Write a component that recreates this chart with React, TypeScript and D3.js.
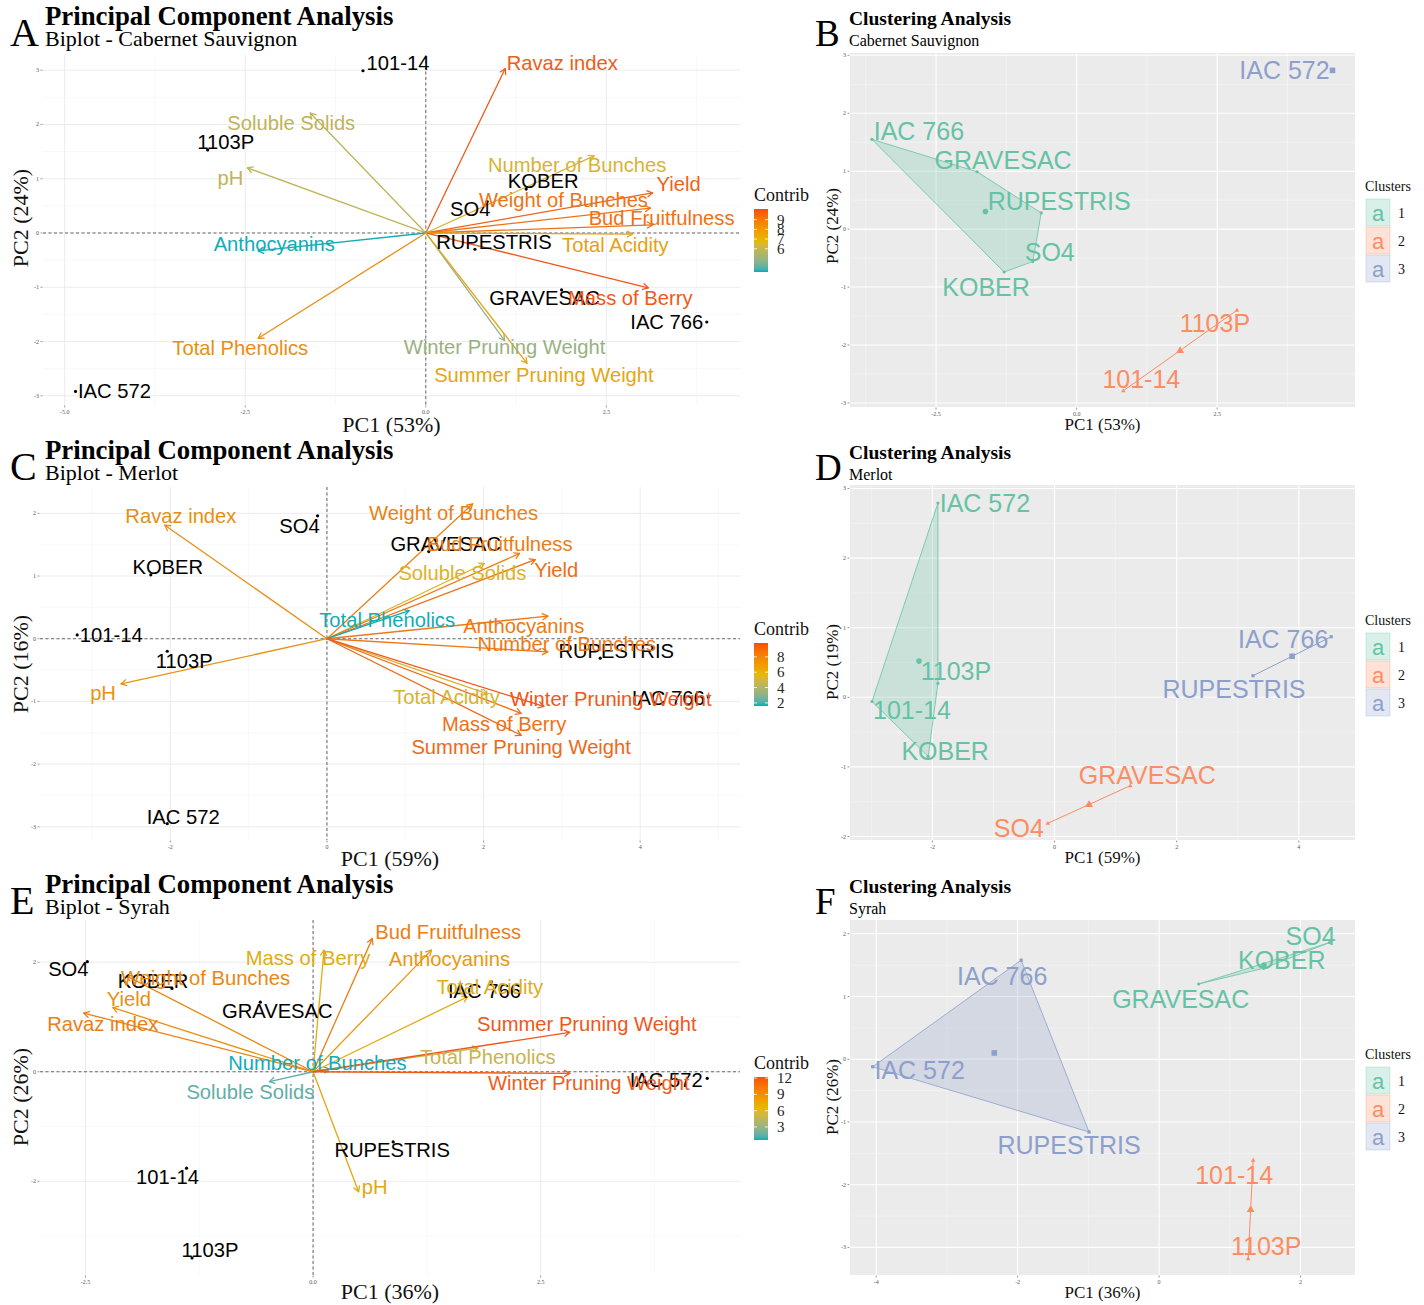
import React from "react";
import * as d3 from "d3";

const SANS = "'Liberation Sans', Arial, Helvetica, sans-serif";
const SERIF = "'Liberation Serif', 'Times New Roman', Times, serif";

// ---------- shared categories ----------
const genotypes = ["101-14", "1103P", "IAC 572", "IAC 766", "GRAVESAC", "KOBER", "RUPESTRIS", "SO4"];
const traits = [
  "Ravaz index", "Soluble Solids", "pH", "Number of Bunches", "Yield", "Weight of Bunches",
  "Bud Fruitfulness", "Total Acidity", "Anthocyanins", "Mass of Berry", "Total Phenolics",
  "Winter Pruning Weight", "Summer Pruning Weight",
];

// ---------- Cabernet Sauvignon: PCA biplot ----------
const cabIndPC1 = [-0.87, -3.02, -4.85, 3.89, 1.88, 1.39, 0.68, 0.85];
const cabIndPC2 = [2.99, 1.53, -2.92, -1.64, -1.05, 0.81, -0.30, 0.58];
const cabVarPC1 = [1.10, -1.60, -2.47, 2.33, 3.14, 3.11, 3.14, 2.86, -2.32, 3.08, -2.32, 1.09, 1.40];
const cabVarPC2 = [3.03, 2.21, 1.20, 1.42, 0.74, 0.46, 0.15, -0.02, -0.33, -1.01, -1.94, -1.98, -2.40];
const cabContrib = [10.0, 6.0, 6.0, 6.6, 9.8, 9.3, 9.4, 7.6, 3.6, 10.1, 8.4, 5.0, 7.4];
const cabContribTicks = [6, 7, 8, 9];
const cabBiplotXTicks = [-5, -2.5, 0, 2.5];
const cabBiplotYTicks = [-3, -2, -1, 0, 1, 2, 3];

// ---------- Merlot: PCA biplot ----------
const merIndPC1 = [-3.19, -2.04, -2.04, 4.87, 1.30, -2.25, 3.49, -0.12];
const merIndPC2 = [0.06, -0.20, -2.95, -0.93, 1.39, 1.02, -0.31, 1.96];
const merVarPC1 = [-2.07, 2.01, -2.63, 2.82, 2.66, 1.86, 2.46, 2.05, 2.82, 2.48, 1.05, 2.77, 2.48];
const merVarPC2 = [1.81, 1.20, -0.72, -0.21, 1.26, 2.15, 1.36, -0.88, 0.36, -1.19, 0.45, -1.08, -1.54];
const merContrib = [7.6, 5.6, 7.4, 8.6, 9.0, 8.2, 8.4, 5.4, 8.6, 8.9, 1.6, 9.8, 9.2];
const merContribTicks = [2, 4, 6, 8];
const merBiplotXTicks = [-2, 0, 2, 4];
const merBiplotYTicks = [-3, -2, -1, 0, 1, 2];

// ---------- Syrah: PCA biplot ----------
const syrIndPC1 = [-1.39, -1.33, 4.33, 1.96, -0.58, -1.55, 0.88, -2.48];
const syrIndPC2 = [-1.76, -3.40, -0.12, 1.64, 1.27, 1.52, -1.28, 2.01];
const syrVarPC1 = [-2.52, -0.48, 0.50, 0.18, -2.20, -2.05, 0.65, 1.70, 1.30, 0.12, 1.81, 2.82, 2.82];
const syrVarPC2 = [1.07, -0.18, -2.19, 0.05, 1.17, 1.75, 2.43, 1.37, 2.22, 2.22, 0.43, -0.03, 0.72];
const syrContrib = [10.0, 1.4, 7.3, 0.6, 9.0, 9.6, 10.2, 6.9, 8.4, 7.0, 5.2, 12.0, 12.2];
const syrContribTicks = [3, 6, 9, 12];
const syrBiplotXTicks = [-2.5, 0, 2.5];
const syrBiplotYTicks = [-2, 0, 2];

// ---------- Clustering (k = 3) ----------
const cabClusPC1 = [0.83, 2.85, 4.55, -3.64, -1.77, -1.29, -0.63, -0.78];
const cabClusPC2 = [-2.79, -1.40, 2.74, 1.55, 0.99, -0.74, 0.28, -0.56];
const cabCluster = [2, 2, 3, 1, 1, 1, 1, 1];
const cabClusXTicks = [-2.5, 0, 2.5];
const cabClusYTicks = [-3, -2, -1, 0, 1, 2, 3];

const merClusPC1 = [-2.99, -1.91, -1.91, 4.53, 1.24, -2.07, 3.25, -0.11];
const merClusPC2 = [-0.06, 0.20, 2.79, 0.87, -1.27, -0.85, 0.31, -1.81];
const merCluster = [1, 1, 1, 3, 2, 1, 3, 2];
const merClusXTicks = [-2, 0, 2, 4];
const merClusYTicks = [-2, -1, 0, 1, 2, 3];

const syrClusPC1 = [1.33, 1.26, -4.05, -1.95, 0.56, 1.48, -0.99, 2.41];
const syrClusPC2 = [-1.61, -3.18, -0.12, 1.58, 1.20, 1.45, -1.16, 1.86];
const syrCluster = [2, 2, 3, 3, 1, 1, 3, 1];
const syrClusXTicks = [-4, -2, 0, 2];
const syrClusYTicks = [-3, -2, -1, 0, 1, 2];

const clusterIds = [1, 2, 3];

// ---------- styling ----------
const CONTRIB_COLORS = ["#00AFBB", "#E7B800", "#FC4E07"];
const CLUSTER_COLORS = ["#66C2A5", "#FC8D62", "#8DA0CB"];
const soften = (c: string) => d3.interpolateRgb(c, "#9a9a9a")(0.12);

// Label offsets (px) from each mark, to keep text clear of neighbours
type Nudge = Record<string, [number, number]>;
const cabIndNudge: Nudge = { "101-14": [35, -8], "1103P": [18, -8], "IAC 572": [39, 0], "IAC 766": [-40, 0], GRAVESAC: [-17, 8], KOBER: [17, -8], RUPESTRIS: [19, -7], SO4: [-17, 7] };
const cabVarNudge: Nudge = { "Ravaz index": [57, -6], "Soluble Solids": [-19, 10], pH: [-17, 10], "Number of Bunches": [-17, 9], Yield: [26, -9], "Weight of Bunches": [-87, -8], "Bud Fruitfulness": [9, -7], "Total Acidity": [-17, 11], Anthocyanins: [16, -7], "Mass of Berry": [-18, 10], "Total Phenolics": [-18, 10], "Winter Pruning Weight": [0, 7], "Summer Pruning Weight": [17, 12] };
const merIndNudge: Nudge = { SO4: [-18, 10], GRAVESAC: [17, -8], KOBER: [17, -8], "101-14": [34, 0], "1103P": [17, 10], RUPESTRIS: [16, -7], "IAC 766": [-40, 1], "IAC 572": [16, -7] };
const merVarNudge: Nudge = { "Ravaz index": [16, -9], pH: [-18, 9], "Weight of Bunches": [-19, 9], "Bud Fruitfulness": [-20, -9], Yield: [21, 10], "Soluble Solids": [-22, 10], "Total Phenolics": [-22, 9], Anthocyanins: [-24, 10], "Number of Bunches": [19, -8], "Winter Pruning Weight": [67, -7], "Total Acidity": [-41, 3], "Mass of Berry": [-17, 11], "Summer Pruning Weight": [0, 12] };
const syrIndNudge: Nudge = { SO4: [-19, 7], KOBER: [-19, -7], GRAVESAC: [17, 9], "IAC 766": [-7, 9], "IAC 572": [-41, 2], RUPESTRIS: [-1, 8], "101-14": [-19, 9], "1103P": [18, -8] };
const syrVarNudge: Nudge = { "Bud Fruitfulness": [76, -7], "Mass of Berry": [-16, 8], Anthocyanins: [18, 9], "Total Acidity": [22, -10], "Summer Pruning Weight": [17, -8], "Total Phenolics": [10, 9], "Winter Pruning Weight": [19, 10], "Number of Bunches": [-12, -6], "Soluble Solids": [-19, 10], pH: [16, -5], "Weight of Bunches": [79, 2], Yield: [16, -9], "Ravaz index": [19, 11] };
const cabClusNudge: Nudge = { "IAC 572": [-48, 0], "IAC 766": [47, -8], GRAVESAC: [26, -12], RUPESTRIS: [18, -12], SO4: [17, -10], KOBER: [-18, 15], "1103P": [-22, 13], "101-14": [18, -12] };
const merClusNudge: Nudge = { "IAC 572": [47, 0], "1103P": [18, -12], "101-14": [40, 9], KOBER: [17, -5], "IAC 766": [-48, 2], RUPESTRIS: [-19, 13], GRAVESAC: [17, -11], SO4: [-29, 5] };
const syrClusNudge: Nudge = { SO4: [-19, -7], KOBER: [18, -8], GRAVESAC: [-18, 15], "IAC 766": [-19, 16], "IAC 572": [47, 3], RUPESTRIS: [-20, 13], "101-14": [-19, 15], "1103P": [18, -13] };

type Frame = { left: number; right: number; top: number; bottom: number };

function minorBreaks(major: number[], lo: number, hi: number) {
  const step = major[1] - major[0];
  const out: number[] = [];
  const start = major[0] - step;
  for (let v = start + step / 2; v <= hi + 1e-9; v += step) {
    if (v >= lo - 1e-9) out.push(v);
  }
  return out;
}

function tickText(v: number, decimals: number) {
  return d3.format(decimals ? ".1f" : "d")(v).replace("−", "-");
}

function Arrow({ x1, y1, x2, y2, color }: { x1: number; y1: number; x2: number; y2: number; color: string }) {
  const ang = Math.atan2(y2 - y1, x2 - x1);
  const L = 6;
  const a = Math.PI / 6;
  const p1 = [x2 - L * Math.cos(ang - a), y2 - L * Math.sin(ang - a)];
  const p2 = [x2 - L * Math.cos(ang + a), y2 - L * Math.sin(ang + a)];
  return (
    <g stroke={color} strokeWidth={1.3} fill="none" strokeLinecap="round" strokeLinejoin="round">
      <line x1={x1} y1={y1} x2={x2} y2={y2} />
      <polyline points={`${p1[0]},${p1[1]} ${x2},${y2} ${p2[0]},${p2[1]}`} />
    </g>
  );
}

function Marker({ cx, cy, shape, size, color }: { cx: number; cy: number; shape: number; size: number; color: string }) {
  if (shape === 1) return <circle cx={cx} cy={cy} r={size} fill={color} />;
  if (shape === 2) {
    const s = size * 1.5;
    const pts = [[cx, cy - s], [cx - s * 0.95, cy + s * 0.6], [cx + s * 0.95, cy + s * 0.6]];
    return <polygon points={pts.map((p) => p.join(",")).join(" ")} fill={color} />;
  }
  return <rect x={cx - size} y={cy - size} width={size * 2} height={size * 2} fill={color} />;
}

function Axes({ frame, x, y, xTicks, yTicks, xDec, yDec, xTitle, yTitle, titleSize, yTitleCenter, xTitleOffset, yTitleX }: any) {
  return (
    <g>
      {yTicks.map((t: number) => (
        <g key={"yt" + t}>
          <line x1={frame.left - 2.5} x2={frame.left - 0.5} y1={y(t)} y2={y(t)} stroke="#555" strokeWidth={0.6} />
          <text x={frame.left - 4} y={y(t)} fontSize={6} fontFamily={SERIF} fill="#555" textAnchor="end" dominantBaseline="central">
            {tickText(t, yDec)}
          </text>
        </g>
      ))}
      {xTicks.map((t: number) => (
        <g key={"xt" + t}>
          <line x1={x(t)} x2={x(t)} y1={frame.bottom + 0.5} y2={frame.bottom + 2.5} stroke="#555" strokeWidth={0.6} />
          <text x={x(t)} y={frame.bottom + 9} fontSize={6} fontFamily={SERIF} fill="#555" textAnchor="middle">
            {tickText(t, xDec)}
          </text>
        </g>
      ))}
      <text x={(frame.left + frame.right) / 2} y={frame.bottom + xTitleOffset} fontSize={titleSize} fontFamily={SERIF} fill="#111" textAnchor="middle">
        {xTitle}
      </text>
      <text transform={`translate(${yTitleX},${yTitleCenter}) rotate(-90)`} fontSize={titleSize} fontFamily={SERIF} fill="#111" textAnchor="middle">
        {yTitle}
      </text>
    </g>
  );
}

function Biplot(props: any) {
  const { id, frame, xDomain, yDomain, xTicks, yTicks, xDec, indX, indY, varX, varY, contrib, contribTicks, indNudge, varNudge, xTitle, yTitle, yTitleCenter, legendTop, xTitleOffset } = props;
  const x = d3.scaleLinear().domain(xDomain).range([frame.left, frame.right]);
  const y = d3.scaleLinear().domain(yDomain).range([frame.top, frame.bottom]);
  const ext = d3.extent(contrib as number[]) as [number, number];
  const color = d3.scaleLinear<string>().domain([ext[0], (ext[0] + ext[1]) / 2, ext[1]]).range(CONTRIB_COLORS).interpolate(d3.interpolateLab);
  const xMinor = minorBreaks(xTicks, xDomain[0], xDomain[1]);
  const yMinor = minorBreaks(yTicks, yDomain[1], yDomain[0]);
  const xMajor = [xTicks[0] - (xTicks[1] - xTicks[0]), ...xTicks, xTicks[xTicks.length - 1] + (xTicks[1] - xTicks[0])].filter((v) => v >= xDomain[0] && v <= xDomain[1]);
  const yMajor = yTicks.filter((v: number) => v >= yDomain[1] && v <= yDomain[0]);
  const ox = x(0);
  const oy = y(0);

  // colour bar
  const barX = 754;
  const barTop = legendTop + 13;
  const barH = 63;
  const barW = 14;
  const barScale = d3.scaleLinear().domain(ext).range([barTop + barH, barTop]);
  const gradId = "grad-" + id;
  const stops = d3.range(0, 1.0001, 0.05);

  return (
    <g>
      <g>
        {xMinor.map((v) => <line key={"xm" + v} x1={x(v)} x2={x(v)} y1={frame.top} y2={frame.bottom} stroke="#F3F3F3" strokeWidth={0.6} />)}
        {yMinor.map((v) => <line key={"ym" + v} y1={y(v)} y2={y(v)} x1={frame.left} x2={frame.right} stroke="#F3F3F3" strokeWidth={0.6} />)}
        {xMajor.map((v) => <line key={"xM" + v} x1={x(v)} x2={x(v)} y1={frame.top} y2={frame.bottom} stroke="#EAEAEA" strokeWidth={0.9} />)}
        {yMajor.map((v: number) => <line key={"yM" + v} y1={y(v)} y2={y(v)} x1={frame.left} x2={frame.right} stroke="#EAEAEA" strokeWidth={0.9} />)}
      </g>
      <line x1={ox} x2={ox} y1={frame.top} y2={frame.bottom} stroke="#444" strokeWidth={0.8} strokeDasharray="3,2.5" />
      <line x1={frame.left} x2={frame.right} y1={oy} y2={oy} stroke="#444" strokeWidth={0.8} strokeDasharray="3,2.5" />

      {traits.map((t, i) => (
        <Arrow key={"a" + t} x1={ox} y1={oy} x2={x(varX[i])} y2={y(varY[i])} color={soften(color(contrib[i]))} />
      ))}
      {genotypes.map((g, i) => (
        <circle key={"p" + g} cx={x(indX[i])} cy={y(indY[i])} r={1.6} fill="#000" />
      ))}
      {genotypes.map((g, i) => (
        <text key={"l" + g} x={x(indX[i]) + indNudge[g][0]} y={y(indY[i]) + indNudge[g][1]} fontSize={20.2} fontFamily={SANS} fill="#000" textAnchor="middle" dominantBaseline="central">
          {g}
        </text>
      ))}
      {traits.map((t, i) => (
        <text key={"vl" + t} x={x(varX[i]) + varNudge[t][0]} y={y(varY[i]) + varNudge[t][1]} fontSize={20.2} fontFamily={SANS} fill={soften(color(contrib[i]))} textAnchor="middle" dominantBaseline="central">
          {t}
        </text>
      ))}

      <Axes frame={frame} x={x} y={y} xTicks={xTicks} yTicks={yTicks} xDec={xDec} yDec={0} xTitle={xTitle} yTitle={yTitle} titleSize={22} yTitleCenter={yTitleCenter} xTitleOffset={xTitleOffset} yTitleX={28} />

      <defs>
        <linearGradient id={gradId} x1="0" y1="1" x2="0" y2="0">
          {stops.map((s) => (
            <stop key={s} offset={s} stopColor={color(ext[0] + s * (ext[1] - ext[0]))} />
          ))}
        </linearGradient>
      </defs>
      <text x={barX} y={legendTop + 5} fontSize={18} fontFamily={SERIF} fill="#111">Contrib</text>
      <rect x={barX} y={barTop} width={barW} height={barH} fill={`url(#${gradId})`} />
      {contribTicks.map((t: number) => (
        <g key={"ct" + t}>
          <line x1={barX} x2={barX + 3} y1={barScale(t)} y2={barScale(t)} stroke="#fff" strokeWidth={0.8} />
          <line x1={barX + barW - 3} x2={barX + barW} y1={barScale(t)} y2={barScale(t)} stroke="#fff" strokeWidth={0.8} />
          <text x={barX + barW + 9} y={barScale(t)} fontSize={15} fontFamily={SERIF} fill="#222" dominantBaseline="central">{t}</text>
        </g>
      ))}
    </g>
  );
}

function ClusterPlot(props: any) {
  const { frame, xDomain, yDomain, xTicks, yTicks, xDec, px, py, cluster, nudge, xTitle, yTitle, yTitleCenter, legendTop } = props;
  const x = d3.scaleLinear().domain(xDomain).range([frame.left, frame.right]);
  const y = d3.scaleLinear().domain(yDomain).range([frame.top, frame.bottom]);
  const xMinor = minorBreaks(xTicks, xDomain[0], xDomain[1]);
  const yMinor = minorBreaks(yTicks, yDomain[1], yDomain[0]);
  const xMajor = [xTicks[0] - (xTicks[1] - xTicks[0]), ...xTicks, xTicks[xTicks.length - 1] + (xTicks[1] - xTicks[0])].filter((v) => v >= xDomain[0] && v <= xDomain[1]);
  const yMajor = yTicks.filter((v: number) => v >= yDomain[1] && v <= yDomain[0]);

  const groups = clusterIds.map((k) => genotypes.map((_, i) => i).filter((i) => cluster[i] === k));
  const screenPts = genotypes.map((_, i) => [x(px[i]), y(py[i])] as [number, number]);

  return (
    <g>
      <rect x={frame.left} y={frame.top} width={frame.right - frame.left} height={frame.bottom - frame.top} fill="#EBEBEB" />
      {xMinor.map((v) => <line key={"xm" + v} x1={x(v)} x2={x(v)} y1={frame.top} y2={frame.bottom} stroke="#F7F7F7" strokeWidth={0.6} />)}
      {yMinor.map((v) => <line key={"ym" + v} y1={y(v)} y2={y(v)} x1={frame.left} x2={frame.right} stroke="#F7F7F7" strokeWidth={0.6} />)}
      {xMajor.map((v) => <line key={"xM" + v} x1={x(v)} x2={x(v)} y1={frame.top} y2={frame.bottom} stroke="#fff" strokeWidth={1.1} />)}
      {yMajor.map((v: number) => <line key={"yM" + v} y1={y(v)} y2={y(v)} x1={frame.left} x2={frame.right} stroke="#fff" strokeWidth={1.1} />)}

      {groups.map((idx, k) => {
        const col = CLUSTER_COLORS[k];
        const pts = idx.map((i) => screenPts[i]);
        if (pts.length >= 3) {
          const hull = d3.polygonHull(pts) || pts;
          return <polygon key={"h" + k} points={hull.map((p) => p.join(",")).join(" ")} fill={col} fillOpacity={0.25} stroke={col} strokeWidth={0.8} />;
        }
        if (pts.length === 2) {
          return <line key={"h" + k} x1={pts[0][0]} y1={pts[0][1]} x2={pts[1][0]} y2={pts[1][1]} stroke={col} strokeWidth={1} />;
        }
        return null;
      })}

      {genotypes.map((g, i) => (
        <Marker key={"m" + g} cx={screenPts[i][0]} cy={screenPts[i][1]} shape={cluster[i]} size={1.6} color={CLUSTER_COLORS[cluster[i] - 1]} />
      ))}
      {groups.map((idx, k) => {
        const cx = d3.mean(idx, (i) => px[i]) as number;
        const cy = d3.mean(idx, (i) => py[i]) as number;
        return <Marker key={"c" + k} cx={x(cx)} cy={y(cy)} shape={k + 1} size={2.8} color={CLUSTER_COLORS[k]} />;
      })}
      {genotypes.map((g, i) => (
        <text key={"l" + g} x={screenPts[i][0] + nudge[g][0]} y={screenPts[i][1] + nudge[g][1]} fontSize={25} fontFamily={SANS} fill={CLUSTER_COLORS[cluster[i] - 1]} textAnchor="middle" dominantBaseline="central">
          {g}
        </text>
      ))}

      <Axes frame={frame} x={x} y={y} xTicks={xTicks} yTicks={yTicks} xDec={xDec} yDec={0} xTitle={xTitle} yTitle={yTitle} titleSize={17} yTitleCenter={yTitleCenter} xTitleOffset={23} yTitleX={838} />

      <text x={1365} y={legendTop} fontSize={14} fontFamily={SERIF} fill="#111">Clusters</text>
      {clusterIds.map((k, j) => {
        const ky = legendTop + 8 + j * 28;
        const col = CLUSTER_COLORS[j];
        return (
          <g key={"lg" + k}>
            <rect x={1366} y={ky} width={24} height={27} fill={col} fillOpacity={0.25} stroke={col} strokeOpacity={0.35} strokeWidth={0.8} />
            <text x={1378} y={ky + 14} fontSize={22} fontFamily={SANS} fill={col} textAnchor="middle" dominantBaseline="central">a</text>
            <text x={1398} y={ky + 14} fontSize={14} fontFamily={SERIF} fill="#111" dominantBaseline="central">{k}</text>
          </g>
        );
      })}
    </g>
  );
}

function Heading({ letter, title, subtitle, x, top, big }: { letter: string; title: string; subtitle: string; x: number; top: number; big: boolean }) {
  return (
    <g fontFamily={SERIF} fill="#000">
      <text x={x} y={top + 46} fontSize={big ? 40 : 37}>{letter}</text>
      <text x={x + (big ? 35 : 34)} y={top + 25} fontSize={big ? 26.8 : 19.5} fontWeight="bold">{title}</text>
      <text x={x + (big ? 35 : 34)} y={top + 46} fontSize={big ? 22 : 16}>{subtitle}</text>
    </g>
  );
}

export default function App() {
  const rightFrame = (top: number, bottom: number): Frame => ({ left: 850, right: 1355, top, bottom });
  return (
    <div style={{ position: "absolute", left: 0, top: 0 }}>
      <svg width={1424} height={1305} viewBox="0 0 1424 1305" style={{ display: "block", background: "#fff" }}>
        <rect width={1424} height={1305} fill="#fff" />

        <Heading letter="A" title="Principal Component Analysis" subtitle="Biplot - Cabernet Sauvignon" x={10} top={0} big />
        <Biplot id="cab" frame={{ left: 43, right: 740, top: 55, bottom: 405 }} xDomain={[-5.3, 4.35]} yDomain={[3.28, -3.17]} xTicks={cabBiplotXTicks} yTicks={cabBiplotYTicks} xDec={1}
          indX={cabIndPC1} indY={cabIndPC2} varX={cabVarPC1} varY={cabVarPC2} contrib={cabContrib} contribTicks={cabContribTicks}
          indNudge={cabIndNudge} varNudge={cabVarNudge} xTitle="PC1 (53%)" yTitle="PC2 (24%)" yTitleCenter={218} legendTop={196} xTitleOffset={27} />

        <Heading letter="B" title="Clustering Analysis" subtitle="Cabernet Sauvignon" x={815} top={0} big={false} />
        <ClusterPlot frame={rightFrame(53, 407)} xDomain={[-4.03, 4.95]} yDomain={[3.04, -3.07]} xTicks={cabClusXTicks} yTicks={cabClusYTicks} xDec={1}
          px={cabClusPC1} py={cabClusPC2} cluster={cabCluster} nudge={cabClusNudge} xTitle="PC1 (53%)" yTitle="PC2 (24%)" yTitleCenter={226} legendTop={191} />

        <Heading letter="C" title="Principal Component Analysis" subtitle="Biplot - Merlot" x={10} top={434} big />
        <Biplot id="mer" frame={{ left: 40, right: 740, top: 487, bottom: 840 }} xDomain={[-3.665, 5.275]} yDomain={[2.42, -3.21]} xTicks={merBiplotXTicks} yTicks={merBiplotYTicks} xDec={0}
          indX={merIndPC1} indY={merIndPC2} varX={merVarPC1} varY={merVarPC2} contrib={merContrib} contribTicks={merContribTicks}
          indNudge={merIndNudge} varNudge={merVarNudge} xTitle="PC1 (59%)" yTitle="PC2 (16%)" yTitleCenter={664} legendTop={630} xTitleOffset={26} />

        <Heading letter="D" title="Clustering Analysis" subtitle="Merlot" x={815} top={434} big={false} />
        <ClusterPlot frame={rightFrame(485, 840)} xDomain={[-3.35, 4.92]} yDomain={[3.05, -2.05]} xTicks={merClusXTicks} yTicks={merClusYTicks} xDec={0}
          px={merClusPC1} py={merClusPC2} cluster={merCluster} nudge={merClusNudge} xTitle="PC1 (59%)" yTitle="PC2 (19%)" yTitleCenter={662} legendTop={625} />

        <Heading letter="E" title="Principal Component Analysis" subtitle="Biplot - Syrah" x={10} top={868} big />
        <Biplot id="syr" frame={{ left: 40, right: 740, top: 920, bottom: 1275 }} xDomain={[-3.0, 4.69]} yDomain={[2.77, -3.71]} xTicks={syrBiplotXTicks} yTicks={syrBiplotYTicks} xDec={1}
          indX={syrIndPC1} indY={syrIndPC2} varX={syrVarPC1} varY={syrVarPC2} contrib={syrContrib} contribTicks={syrContribTicks}
          indNudge={syrIndNudge} varNudge={syrVarNudge} xTitle="PC1 (36%)" yTitle="PC2 (26%)" yTitleCenter={1097} legendTop={1064} xTitleOffset={24} />

        <Heading letter="F" title="Clustering Analysis" subtitle="Syrah" x={815} top={868} big={false} />
        <ClusterPlot frame={rightFrame(920, 1275)} xDomain={[-4.37, 2.77]} yDomain={[2.22, -3.44]} xTicks={syrClusXTicks} yTicks={syrClusYTicks} xDec={0}
          px={syrClusPC1} py={syrClusPC2} cluster={syrCluster} nudge={syrClusNudge} xTitle="PC1 (36%)" yTitle="PC2 (26%)" yTitleCenter={1097} legendTop={1059} />
      </svg>
    </div>
  );
}
